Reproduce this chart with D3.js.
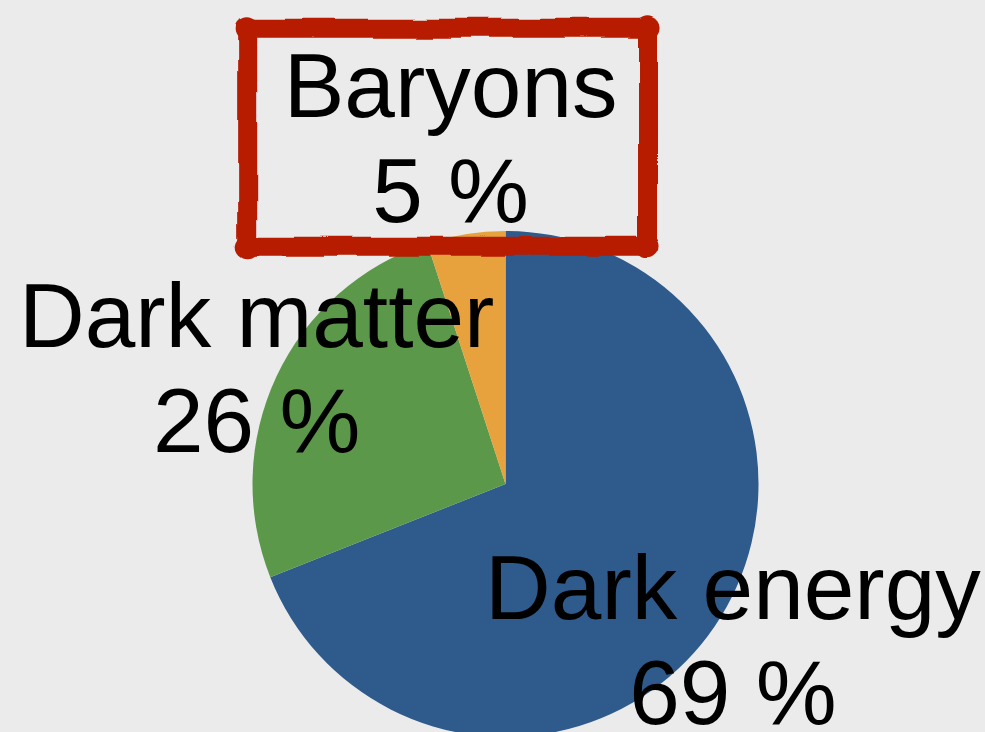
<!DOCTYPE html>
<html>
<head>
<meta charset="utf-8">
<script src="https://cdn.jsdelivr.net/npm/d3@7/dist/d3.min.js"></script>
<style>
  html, body { margin: 0; padding: 0; background: #ebebeb; }
  svg { display: block; }
</style>
</head>
<body>
<script>
// Composition of the universe
const categories = ["Dark energy", "Dark matter", "Baryons"];
const shares = [69, 26, 5];
const sliceColors = ["#2e5a8c", "#5c984a", "#e7a23e"];
const highlighted = "Baryons";

const width = 985, height = 732;
const cx = 505.5, cy = 484, radius = 253;
const labelRadius = 275, calloutRadius = 351;
const fontSize = 91, lineGap = 105, capHeight = 65;

const svg = d3.select("body").append("svg")
  .attr("width", width).attr("height", height);

svg.append("rect").attr("width", width).attr("height", height).attr("fill", "#ebebeb");

// Hand-drawn wobble for the callout frame
const defs = svg.append("defs");
const wob = defs.append("filter").attr("id", "wobble")
  .attr("x", "-10%").attr("y", "-10%").attr("width", "120%").attr("height", "120%");
wob.append("feTurbulence").attr("type", "fractalNoise").attr("baseFrequency", "0.014")
  .attr("numOctaves", 2).attr("seed", 7).attr("result", "noise");
wob.append("feDisplacementMap").attr("in", "SourceGraphic").attr("in2", "noise")
  .attr("scale", 8).attr("xChannelSelector", "R").attr("yChannelSelector", "G");

const data = categories.map((c, i) => ({ name: c, value: shares[i], color: sliceColors[i] }));

const pie = d3.pie().value(d => d.value).sort(null);
const arc = d3.arc().innerRadius(0).outerRadius(radius);
const arcs = pie(data);

const g = svg.append("g").attr("transform", `translate(${cx},${cy})`);
g.selectAll("path.slice").data(arcs).join("path")
  .attr("class", "slice")
  .attr("d", arc)
  .attr("fill", d => d.data.color);

// Label block centres along each slice's mid angle
function labelCenter(d) {
  const a = (d.startAngle + d.endAngle) / 2;
  const r = d.data.name === highlighted ? calloutRadius : labelRadius;
  return [r * Math.sin(a), -r * Math.cos(a)];
}

const labels = g.selectAll("g.label").data(arcs).join("g")
  .attr("class", "label")
  .attr("transform", d => { const [x, y] = labelCenter(d); return `translate(${x},${y})`; });

// Frame around the highlighted label, with blobby ink at the corners
labels.filter(d => d.data.name === highlighted).each(function(d) {
  const sel = d3.select(this);
  const tmp = sel.append("text")
    .attr("font-family", "'Liberation Sans', Arial, Helvetica, sans-serif")
    .attr("font-size", fontSize).text(d.data.name);
  const w = tmp.node().getComputedTextLength();
  tmp.remove();
  const bw = w + 66, bh = 218;
  const x0 = -bw / 2 - 3, y0 = -109;
  const frame = sel.append("g").attr("filter", "url(#wobble)");
  frame.append("rect")
    .attr("x", x0).attr("y", y0)
    .attr("width", bw).attr("height", bh)
    .attr("rx", 6)
    .attr("fill", "none")
    .attr("stroke", "#b71b02")
    .attr("stroke-width", 19)
    .attr("stroke-linejoin", "round");
  const corners = [[x0, y0], [x0 + bw, y0], [x0, y0 + bh], [x0 + bw, y0 + bh]];
  frame.selectAll("circle").data(corners).join("circle")
    .attr("cx", c => c[0]).attr("cy", c => c[1])
    .attr("r", 12).attr("fill", "#b71b02");
});

const text = labels.append("text")
  .attr("text-anchor", "middle")
  .attr("font-family", "'Liberation Sans', Arial, Helvetica, sans-serif")
  .attr("font-size", fontSize)
  .attr("fill", "#000");

// Two-line block centred on the label point
const firstBaseline = -(capHeight + lineGap) / 2 + capHeight;
text.append("tspan").attr("x", 0).attr("y", firstBaseline).text(d => d.data.name);
text.append("tspan").attr("x", 0).attr("y", firstBaseline + lineGap).text(d => `${d.data.value} %`);
</script>
</body>
</html>
